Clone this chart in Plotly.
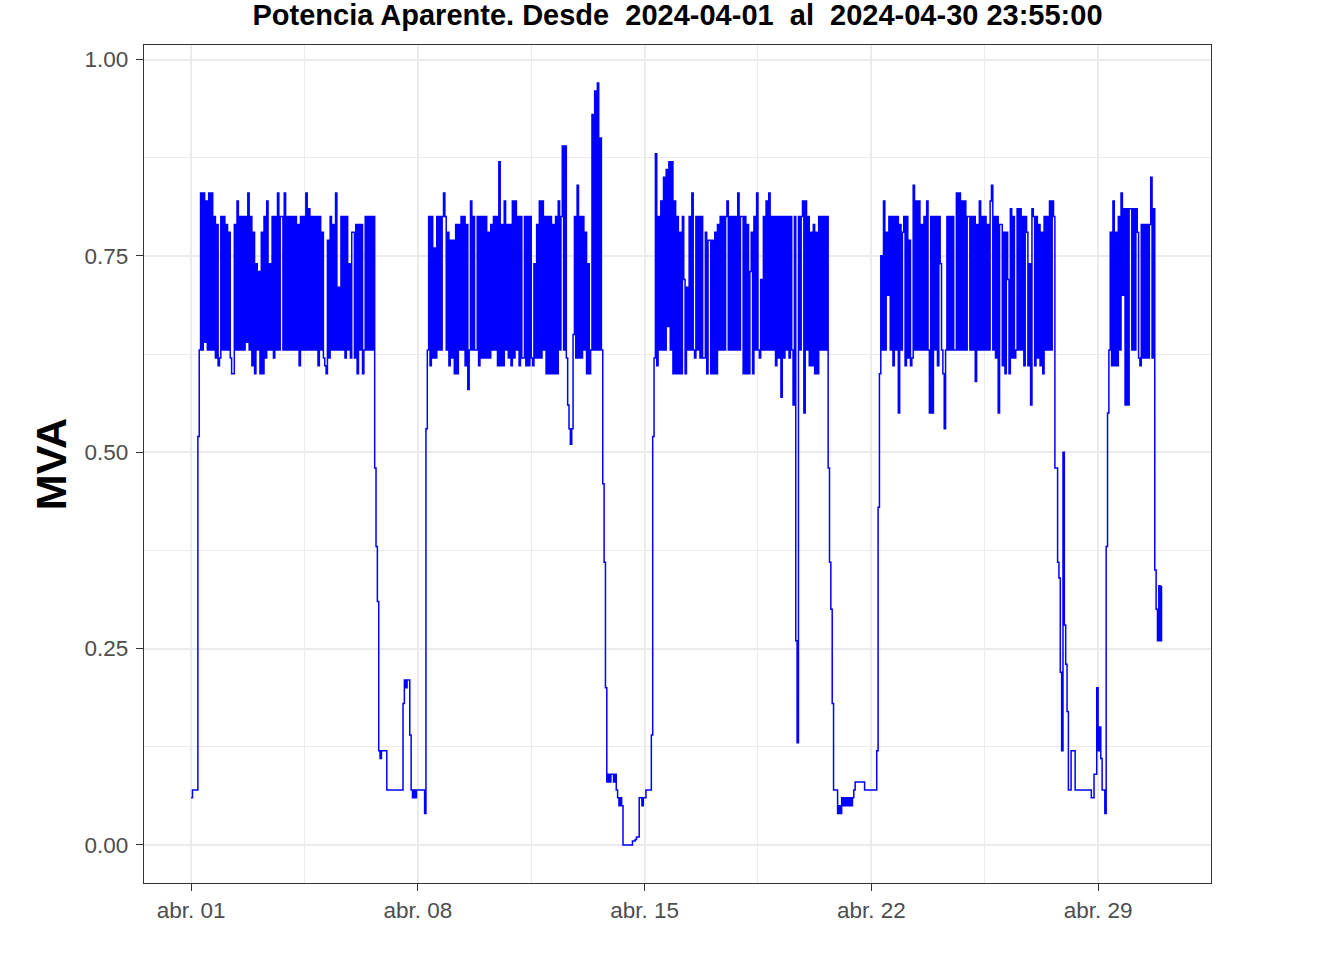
import pandas as pd
import plotly.graph_objects as go

# Hourly readings of apparent power (MVA), one list per day, April 2024
apr01 = [0.06,0.07,0.07,0.07,0.07,0.52,0.63,0.83, 0.63,0.83,0.64,0.82,0.63,0.83,0.63,0.83, 0.63,0.80,0.62,0.79,0.61,0.62,0.80,0.63]
apr02 = [0.80,0.63,0.79,0.63,0.78,0.62,0.60,0.60, 0.79,0.63,0.82,0.63,0.80,0.63,0.80,0.63, 0.80,0.64,0.83,0.63,0.80,0.61,0.78,0.60]
apr03 = [0.74,0.63,0.73,0.60,0.78,0.60,0.80,0.62, 0.82,0.63,0.74,0.63,0.80,0.62,0.80,0.63, 0.83,0.63,0.80,0.80,0.63,0.83,0.63,0.80]
apr04 = [0.63,0.80,0.63,0.80,0.63,0.80,0.63,0.79, 0.61,0.80,0.63,0.80,0.63,0.83,0.63,0.81, 0.63,0.80,0.63,0.80,0.63,0.80,0.61,0.80]
apr05 = [0.63,0.78,0.62,0.61,0.60,0.77,0.62,0.80, 0.63,0.79,0.63,0.83,0.63,0.71,0.63,0.80, 0.63,0.80,0.62,0.80,0.63,0.74,0.62,0.78]
apr06 = [0.78,0.62,0.79,0.60,0.79,0.63,0.79,0.60, 0.63,0.80,0.63,0.80,0.63,0.80,0.63,0.80, 0.48,0.38,0.31,0.12,0.11,0.12,0.12,0.12]
apr07 = [0.12,0.07,0.07,0.07,0.07,0.07,0.07,0.07, 0.07,0.07,0.07,0.07,0.07,0.18,0.21,0.20, 0.21,0.21,0.14,0.07,0.06,0.07,0.06,0.07]
apr08 = [0.07,0.07,0.07,0.07,0.07,0.04,0.53,0.63, 0.80,0.61,0.80,0.62,0.76,0.62,0.80,0.63, 0.80,0.63,0.80,0.83,0.80,0.63,0.78,0.61]
apr09 = [0.77,0.62,0.77,0.60,0.79,0.60,0.79,0.63, 0.80,0.63,0.80,0.61,0.79,0.58,0.63,0.82, 0.63,0.80,0.63,0.63,0.80,0.61,0.80,0.62]
apr10 = [0.80,0.62,0.80,0.62,0.78,0.62,0.79,0.63, 0.80,0.63,0.80,0.61,0.87,0.61,0.79,0.61, 0.82,0.63,0.79,0.62,0.79,0.61,0.82,0.62]
apr11 = [0.82,0.63,0.80,0.61,0.80,0.62,0.62,0.80, 0.61,0.80,0.61,0.80,0.62,0.61,0.74,0.62, 0.79,0.62,0.82,0.62,0.82,0.63,0.80,0.60]
apr12 = [0.80,0.60,0.80,0.60,0.79,0.60,0.80,0.60, 0.82,0.63,0.80,0.89,0.63,0.89,0.62,0.56, 0.53,0.51,0.53,0.65,0.80,0.62,0.84,0.62]
apr13 = [0.80,0.62,0.80,0.63,0.78,0.60,0.74,0.60, 0.63,0.93,0.63,0.96,0.63,0.97,0.63,0.90, 0.63,0.46,0.36,0.20,0.08,0.09,0.08,0.09]
apr14 = [0.09,0.08,0.09,0.07,0.06,0.05,0.06,0.05, 0.00,0.00,0.00,0.00,0.00,0.00,0.00,0.005, 0.005,0.007,0.01,0.01,0.06,0.06,0.05,0.06]
apr15 = [0.06,0.07,0.07,0.07,0.07,0.14,0.52,0.62, 0.88,0.61,0.80,0.63,0.82,0.63,0.85,0.63, 0.86,0.66,0.87,0.63,0.87,0.60,0.82,0.60]
apr16 = [0.80,0.60,0.78,0.60,0.80,0.72,0.60,0.71, 0.63,0.80,0.63,0.83,0.63,0.62,0.80,0.63, 0.80,0.62,0.80,0.62,0.62,0.78,0.60,0.77]
apr17 = [0.77,0.60,0.77,0.60,0.78,0.60,0.79,0.63, 0.80,0.63,0.80,0.63,0.80,0.82,0.63,0.80, 0.63,0.80,0.63,0.80,0.63,0.83,0.63,0.80]
apr18 = [0.80,0.60,0.80,0.60,0.79,0.60,0.73,0.78, 0.60,0.80,0.63,0.83,0.63,0.62,0.72,0.63, 0.80,0.63,0.82,0.63,0.83,0.63,0.80,0.63]
apr19 = [0.80,0.61,0.80,0.62,0.80,0.57,0.80,0.62, 0.80,0.63,0.80,0.62,0.80,0.63,0.56,0.80, 0.26,0.13,0.80,0.63,0.80,0.82,0.55,0.82]
apr20 = [0.63,0.80,0.61,0.78,0.61,0.79,0.60,0.78, 0.60,0.80,0.63,0.80,0.63,0.80,0.63,0.80, 0.48,0.36,0.30,0.18,0.07,0.07,0.07,0.04]
apr21 = [0.05,0.04,0.06,0.05,0.06,0.05,0.06,0.05, 0.06,0.05,0.06,0.07,0.08,0.08,0.08,0.08, 0.08,0.08,0.08,0.07,0.07,0.07,0.07,0.07]
apr22 = [0.07,0.07,0.07,0.07,0.12,0.43,0.60,0.75, 0.63,0.82,0.63,0.78,0.70,0.80,0.63,0.80, 0.61,0.80,0.63,0.80,0.55,0.79,0.63,0.78]
apr23 = [0.80,0.61,0.80,0.62,0.77,0.61,0.62,0.84, 0.63,0.82,0.63,0.82,0.63,0.79,0.63,0.80, 0.63,0.82,0.63,0.55,0.80,0.55,0.80,0.63]
apr24 = [0.80,0.61,0.80,0.74,0.63,0.60,0.53,0.63, 0.80,0.63,0.80,0.63,0.80,0.63,0.63,0.83, 0.63,0.83,0.63,0.82,0.63,0.82,0.63,0.80]
apr25 = [0.80,0.63,0.80,0.63,0.80,0.59,0.79,0.63, 0.82,0.63,0.80,0.63,0.80,0.63,0.79,0.63, 0.82,0.84,0.63,0.80,0.62,0.80,0.55,0.79]
apr26 = [0.79,0.61,0.78,0.60,0.78,0.72,0.60,0.81, 0.62,0.80,0.62,0.63,0.81,0.63,0.81,0.63, 0.80,0.61,0.80,0.78,0.61,0.74,0.56,0.81]
apr27 = [0.80,0.61,0.80,0.62,0.79,0.61,0.78,0.60, 0.80,0.63,0.80,0.63,0.82,0.63,0.82,0.80, 0.48,0.48,0.36,0.34,0.22,0.12,0.50,0.28]
apr28 = [0.23,0.17,0.07,0.07,0.12,0.12,0.12,0.07, 0.07,0.07,0.07,0.07,0.07,0.07,0.07,0.07, 0.07,0.07,0.07,0.06,0.06,0.09,0.09,0.20]
apr29 = [0.12,0.15,0.11,0.07,0.07,0.04,0.38,0.55, 0.63,0.78,0.61,0.82,0.61,0.78,0.61,0.80, 0.63,0.83,0.70,0.81,0.56,0.81,0.56,0.81]
apr30 = [0.81,0.63,0.81,0.63,0.81,0.78,0.62,0.61, 0.79,0.62,0.79,0.62,0.79,0.62,0.79,0.85, 0.62,0.81,0.35,0.30,0.26,0.33,0.26,0.33]

x_tick_dates = ["2024-04-01", "2024-04-08", "2024-04-15", "2024-04-22", "2024-04-29"]
x_tick_labels = ["abr. 01", "abr. 08", "abr. 15", "abr. 22", "abr. 29"]
y_tick_values = [0.0, 0.25, 0.5, 0.75, 1.0]
y_tick_labels = ["0.00", "0.25", "0.50", "0.75", "1.00"]

days = [apr01, apr02, apr03, apr04, apr05, apr06, apr07, apr08, apr09, apr10,
        apr11, apr12, apr13, apr14, apr15, apr16, apr17, apr18, apr19, apr20,
        apr21, apr22, apr23, apr24, apr25, apr26, apr27, apr28, apr29, apr30]
values = [v for d in days for v in d]
times = pd.date_range("2024-04-01 00:00", periods=len(values), freq="h")

fig = go.Figure()
fig.add_trace(go.Scatter(
    x=times, y=values, mode="lines",
    line=dict(color="#0000FF", width=1.5, shape="hv"),
    showlegend=False, hoverinfo="x+y",
))

NB = "\u00a0"
title_text = ("Potencia Aparente. Desde " + NB + "2024-04-01 " + NB + "al " + NB +
              "2024-04-30 23:55:00")

font_family = "Liberation Sans, Arial, sans-serif"
grid = "#EBEBEB"
border = "#333333"

fig.update_layout(
    width=1344, height=960,
    margin=dict(l=144, r=133, t=45, b=77),
    paper_bgcolor="white", plot_bgcolor="white",
    font=dict(family=font_family, color="#4D4D4D"),
    title=dict(text="<b>" + title_text + "</b>", x=0.5, xref="paper", xanchor="center",
               y=1 - 15 / 960, yref="container", yanchor="middle",
               font=dict(family=font_family, size=29, color="black")),
)

fig.update_xaxes(
    type="date",
    range=["2024-03-30 13:05:00", "2024-05-02 11:40:00"],
    tickmode="array", tickvals=x_tick_dates, ticktext=x_tick_labels,
    tickfont=dict(family=font_family, size=22.5, color="#4D4D4D"),
    ticks="outside", ticklen=7, tickwidth=1.3, tickcolor=border,
    showgrid=True, gridcolor=grid, gridwidth=2,
    minor=dict(tickmode="array",
               tickvals=["2024-04-04 12:00", "2024-04-11 12:00", "2024-04-18 12:00", "2024-04-25 12:00"],
               showgrid=True, gridcolor=grid, gridwidth=1, ticks=""),
    showline=True, linecolor=border, linewidth=1.3, mirror=True,
    zeroline=False, ticklabelstandoff=0,
)

fig.update_yaxes(
    range=[-0.0485, 1.0185],
    tickmode="array", tickvals=y_tick_values, ticktext=y_tick_labels,
    tickfont=dict(family=font_family, size=22.5, color="#4D4D4D"),
    ticks="outside", ticklen=7, tickwidth=1.3, tickcolor=border,
    showgrid=True, gridcolor=grid, gridwidth=2,
    minor=dict(tickmode="array", tickvals=[0.125, 0.375, 0.625, 0.875],
               showgrid=True, gridcolor=grid, gridwidth=1, ticks=""),
    showline=True, linecolor=border, linewidth=1.3, mirror=True,
    zeroline=False, ticklabelstandoff=3,
    title=dict(text="<b>MVA</b>", font=dict(family=font_family, size=43, color="black"),
               standoff=4),
)

fig.write_html("out.html", config={"displayModeBar": False},
               post_script="document.body.style.margin='0px';")
